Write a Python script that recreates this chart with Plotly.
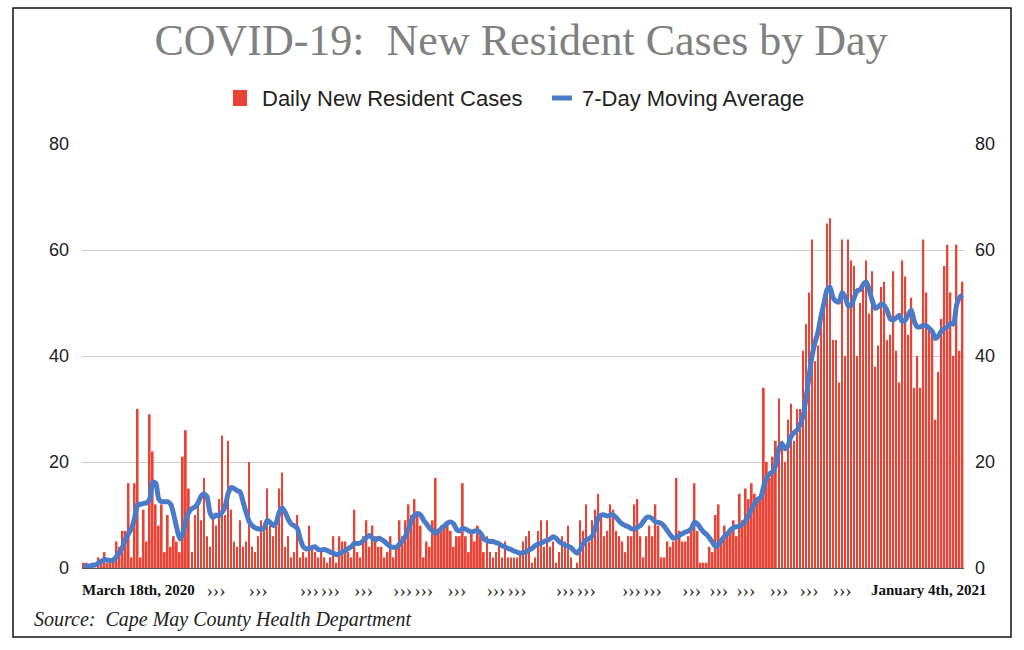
import pandas as pd
import plotly.graph_objects as go

# ---------------- data ----------------
start_date = "2020-03-18"
end_date = "2021-01-04"
dates = pd.date_range(start_date, end_date, freq="D")

daily_cases = [
    1, 1, 0, 1, 0, 2, 1, 3, 1, 1, 2, 5, 4, 7, 7, 16, 2, 16, 30, 2,
    11, 5, 29, 22, 12, 8, 12, 3, 10, 4, 6, 5, 3, 21, 26, 15, 3, 10, 12, 9,
    17, 6, 4, 10, 8, 13, 25, 10, 24, 11, 5, 4, 9, 4, 5, 20, 4, 3, 6, 9,
    8, 15, 8, 6, 9, 15, 18, 4, 6, 2, 3, 10, 2, 3, 2, 8, 4, 3, 2, 3,
    2, 1, 2, 6, 1, 6, 5, 5, 3, 2, 11, 3, 2, 6, 9, 4, 8, 6, 4, 4,
    2, 3, 6, 2, 4, 9, 6, 9, 12, 10, 13, 10, 8, 2, 5, 4, 9, 17, 7, 8,
    8, 8, 7, 4, 6, 6, 16, 6, 3, 7, 5, 8, 6, 3, 6, 3, 2, 3, 5, 2,
    5, 2, 2, 2, 2, 3, 5, 6, 7, 1, 2, 7, 9, 4, 9, 4, 5, 1, 3, 6,
    5, 8, 2, 0, 1, 9, 7, 12, 5, 9, 11, 14, 10, 6, 7, 12, 11, 7, 6, 5,
    3, 6, 6, 12, 13, 6, 2, 6, 8, 6, 12, 8, 2, 2, 5, 4, 5, 17, 7, 5,
    5, 6, 7, 16, 7, 1, 1, 1, 4, 3, 10, 12, 5, 8, 6, 7, 9, 6, 14, 9,
    15, 13, 16, 14, 13, 14, 34, 20, 17, 21, 24, 32, 24, 20, 28, 31, 24, 30, 30, 41,
    46, 52, 62, 39, 42, 47, 50, 65, 66, 43, 43, 35, 62, 40, 62, 58, 57, 40, 50, 54,
    58, 48, 56, 38, 42, 53, 54, 43, 44, 56, 41, 35, 58, 55, 44, 51, 34, 40, 34, 62,
    52, 45, 44, 28, 37, 47, 57, 61, 52, 40, 61, 41, 54,
]

moving_average = [
    0.4, 0.4, 0.4, 0.5, 0.6, 0.9, 1.3, 1.6, 1.5, 1.4, 1.5, 2.2, 3.0, 4.0, 5.5, 6.5, 7.5, 9.5, 12.0, 12.0,
    12.2, 12.3, 13.0, 16.2, 16.0, 13.0, 12.5, 12.5, 12.5, 12.0, 10.0, 7.5, 5.5, 6.5, 9.0, 10.5, 11.2, 11.5, 12.2, 13.5,
    14.0, 13.5, 10.5, 9.5, 10.0, 9.8, 10.5, 11.5, 14.0, 15.2, 15.0, 14.6, 14.4, 12.5, 10.5, 8.8, 8.0, 7.6, 7.4, 7.3,
    7.5, 9.0, 8.6, 8.0, 8.5, 10.5, 11.3, 10.5, 9.2, 8.3, 8.0, 7.5, 5.5, 4.0, 3.6, 3.7, 3.9, 4.0, 3.5, 3.4,
    3.5, 3.3, 3.0, 2.8, 2.5, 2.7, 3.0, 3.3, 3.7, 4.0, 4.7, 4.6, 4.7, 5.2, 5.8, 6.2, 5.6, 5.3, 5.6, 5.4,
    5.0, 4.5, 4.0, 3.9, 3.9, 4.5, 5.2, 6.0, 7.5, 9.0, 10.0, 10.3, 10.0, 9.0, 8.3, 7.5, 7.0, 6.5, 7.0, 7.5,
    8.0, 8.5, 8.7, 8.3, 7.2, 7.0, 7.5, 7.3, 7.0, 6.8, 7.0, 7.0, 6.5, 5.5, 5.2, 5.0, 5.0, 4.8, 4.6, 4.2,
    4.0, 3.7, 3.5, 3.2, 3.0, 2.8, 2.9, 3.0, 3.4, 3.7, 4.2, 4.5, 4.7, 5.0, 5.2, 5.5, 5.9, 5.6, 5.0, 4.6,
    4.3, 4.1, 3.8, 3.2, 2.8, 3.5, 4.6, 5.3, 5.6, 6.0, 7.5, 9.5, 10.0, 10.0, 9.8, 10.0, 10.0, 9.5, 8.8, 8.3,
    8.0, 7.8, 7.4, 7.3, 7.7, 8.0, 8.8, 9.5, 9.6, 9.3, 8.7, 8.6, 8.4, 7.8, 7.0, 6.2, 5.6, 5.8, 6.2, 6.5,
    6.8, 7.0, 7.5, 8.7, 8.3, 7.5, 6.8, 6.3, 5.6, 4.8, 4.0, 4.5, 5.3, 6.0, 6.5, 7.2, 7.6, 7.8, 7.9, 8.3,
    9.0, 10.0, 11.2, 12.2, 13.0, 13.3, 15.5, 17.0, 17.8, 18.2, 19.5, 22.5, 23.5, 22.5, 23.0, 24.8, 25.5, 26.0, 27.0, 28.5,
    32.0, 36.0, 40.0, 42.5, 44.5, 47.5, 50.0, 52.5, 53.0, 51.0, 50.3, 50.2, 52.0, 51.2, 49.5, 49.5, 51.0, 52.3, 52.5, 53.5,
    54.0, 52.5, 50.5, 49.0, 49.3, 49.8, 49.5, 48.5, 47.0, 46.8, 47.2, 47.7, 46.5, 46.8, 47.8, 48.7, 46.5, 45.5, 45.5, 45.8,
    45.7, 45.2, 44.6, 43.3, 43.8, 44.7, 45.2, 45.5, 46.2, 46.0, 49.5, 51.0, 51.5,
]

y_ticks = [0, 20, 40, 60, 80]
marker_tick_dates = [
    "2020-05-01", "2020-05-15", "2020-06-01", "2020-06-08", "2020-06-19",
    "2020-07-02", "2020-07-09", "2020-07-20", "2020-08-02", "2020-08-09",
    "2020-08-25", "2020-09-01", "2020-09-16", "2020-09-23", "2020-10-06",
    "2020-10-15", "2020-10-24", "2020-11-04", "2020-11-14", "2020-11-25",
]
marker_tick_text = "\u203a\u203a\u203a"
first_label = "March 18th, 2020"
last_label = "January 4th, 2021"
title_text = "COVID-19:  New Resident Cases by Day"
source_text = "Source:  Cape May County Health Department"
bar_name = "Daily New Resident Cases"
line_name = "7-Day Moving Average"

BAR_COLOR = "#ea4335"
LINE_COLOR = "#4a7bc8"
SERIF = "Liberation Serif, Times New Roman, serif"

# ---------------- layout geometry (pixels) ----------------
W_FIG, H_FIG = 1024, 650
L, R, T, B = 82, 60, 144, 82
PW = W_FIG - L - R
PH = H_FIG - T - B


def px_x(px):
    return (px - L) / PW


def px_y(py):
    return (H_FIG - B - py) / PH


fig = go.Figure()
fig.add_trace(go.Bar(
    x=dates, y=daily_cases, name=bar_name,
    marker=dict(color=BAR_COLOR, line=dict(width=0)),
    yaxis="y", showlegend=False,
))
fig.add_trace(go.Scatter(
    x=dates, y=moving_average, name=line_name, mode="lines",
    line=dict(color=LINE_COLOR, width=5, shape="spline", smoothing=0.6),
    yaxis="y2", showlegend=False,
))

x_range = [dates[0] - pd.Timedelta(hours=12), dates[-1] + pd.Timedelta(hours=12)]

fig.update_layout(
    width=W_FIG, height=H_FIG,
    margin=dict(l=L, r=R, t=T, b=B, pad=0),
    paper_bgcolor="white", plot_bgcolor="white",
    bargap=0.42,
    font=dict(family="Liberation Sans, Arial, sans-serif", color="#222222"),
    title=dict(
        text=title_text, x=521 / W_FIG, xref="container", xanchor="center",
        y=1 - 40 / H_FIG, yref="container", yanchor="middle",
        font=dict(family=SERIF, size=44, color="#808080"),
    ),
    showlegend=False,
    xaxis=dict(
        type="date", range=x_range, showgrid=False, zeroline=False,
        showline=True, linecolor="#555555", linewidth=1,
        tickmode="array", tickvals=marker_tick_dates,
        ticktext=[marker_tick_text] * len(marker_tick_dates),
        ticks="", ticklabelstandoff=5,
        tickfont=dict(family=SERIF, size=19, color="#333333"),
    ),
    yaxis=dict(
        range=[0, 80], tickvals=y_ticks, showgrid=True, gridcolor="#cccccc", gridwidth=1,
        zeroline=False, showline=False, ticks="", ticklabelstandoff=12,
        tickfont=dict(size=18, color="#222222"),
    ),
    yaxis2=dict(
        range=[0, 80], tickvals=y_ticks, overlaying="y", side="right", showgrid=False,
        zeroline=False, showline=False, ticks="", ticklabelstandoff=10,
        tickfont=dict(size=18, color="#222222"),
    ),
)

# legend drawn manually to match the reference placement
fig.add_shape(type="rect", xref="paper", yref="paper",
              x0=px_x(233), x1=px_x(247), y0=px_y(106), y1=px_y(90),
              fillcolor=BAR_COLOR, line=dict(width=0))
fig.add_annotation(text=bar_name, xref="paper", yref="paper", x=px_x(260), y=px_y(98),
                   xanchor="left", yanchor="middle", showarrow=False,
                   font=dict(size=22, color="#222222"))
fig.add_shape(type="line", xref="paper", yref="paper",
              x0=px_x(552), x1=px_x(572), y0=px_y(98), y1=px_y(98),
              line=dict(color=LINE_COLOR, width=5))
fig.add_annotation(text=line_name, xref="paper", yref="paper", x=px_x(580), y=px_y(98),
                   xanchor="left", yanchor="middle", showarrow=False,
                   font=dict(size=22, color="#222222"))

fig.add_annotation(
    text=first_label, xref="paper", yref="paper", x=px_x(80), y=px_y(590),
    xanchor="left", yanchor="middle", showarrow=False,
    font=dict(family=SERIF, size=15, color="#111111", weight="bold"),
)
fig.add_annotation(
    text=last_label, xref="paper", yref="paper", x=px_x(988), y=px_y(590),
    xanchor="right", yanchor="middle", showarrow=False,
    font=dict(family=SERIF, size=15, color="#111111", weight="bold"),
)
fig.add_annotation(
    text=f"<i>{source_text}</i>", xref="paper", yref="paper", x=px_x(32), y=px_y(619),
    xanchor="left", yanchor="middle", showarrow=False,
    font=dict(family=SERIF, size=20, color="#222222"),
)
fig.add_shape(
    type="rect", xref="paper", yref="paper",
    x0=px_x(13), x1=px_x(1011), y0=px_y(637), y1=px_y(8),
    line=dict(color="#111111", width=1.5), fillcolor="rgba(0,0,0,0)", layer="above",
)

fig.write_html("out.html", config={"displayModeBar": False},
               post_script="document.body.style.margin='0px';")
